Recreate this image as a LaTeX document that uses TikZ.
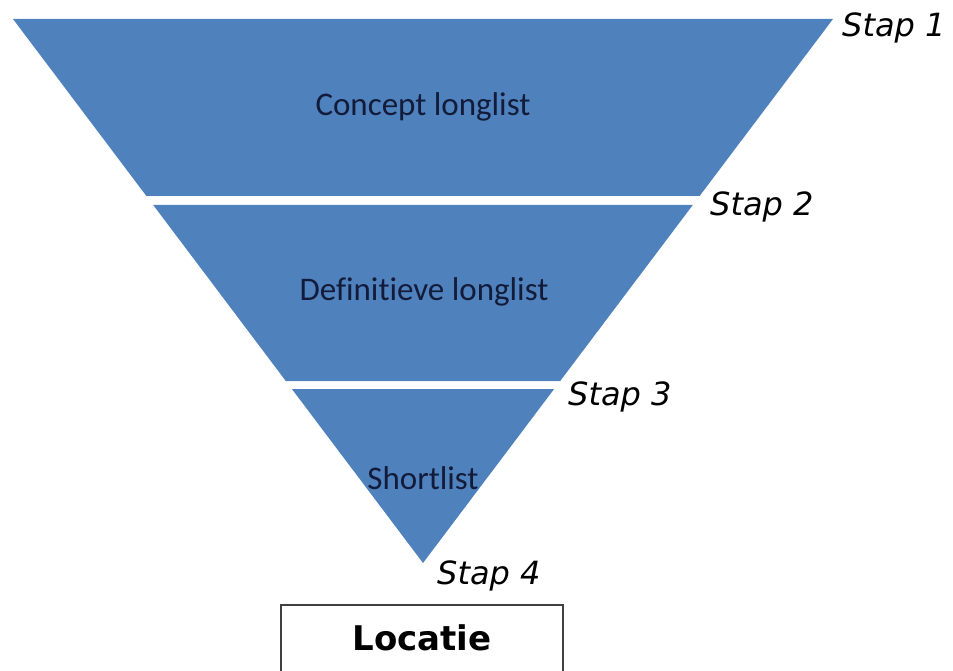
\documentclass[tikz,border=0pt]{standalone}
\usepackage{fontspec}
\setmainfont[Ligatures={NoCommon,NoDiscretionary,NoContextual}]{Carlito}
\newfontfamily\verdanalike{DejaVu Sans}
\usetikzlibrary{positioning}
\definecolor{funnelblue}{HTML}{4F81BD}
\definecolor{bandtext}{RGB}{18,28,58}
\definecolor{boxline}{RGB}{64,64,64}
\tikzset{
  band/.style={fill=funnelblue, draw=none},
  bandlabel/.style={text=bandtext, font=\fontsize{33}{36}\selectfont, inner sep=0pt},
  staplabel/.style={font=\verdanalike\itshape\fontsize{32}{36}\selectfont, anchor=base west, inner sep=0pt},
  resultbox/.style={draw=boxline, line width=2pt, fill=white}
}
\begin{document}
\begin{tikzpicture}[x=1pt,y=-1pt]
\useasboundingbox (0,0) rectangle (953,671);
\clip (0,0) rectangle (953,671);
% bands
\fill[band] (13,19) -- (833,19) -- (699.6,196) -- (146.4,196) -- cycle;
\fill[band] (153.2,205) -- (692.8,205) -- (560.2,381) -- (285.8,381) -- cycle;
\fill[band] (291.9,389) -- (554.1,389) -- (423,563) -- cycle;
% band labels
\node[bandlabel] (concept) at (423,107) {Concept longlist};
\node[bandlabel] (definitief) at (424,292) {Defin\kern0pt itieve longlist};
\node[bandlabel] (short) at (423,478) {Shortlist};
% stap labels
\node[staplabel] (stap1) at (842,37) {Stap 1};
\node[staplabel] (stap2) at (710,215) {Stap 2};
\node[staplabel] (stap3) at (568,405) {Stap 3};
\node[staplabel] (stap4) at (437,584) {Stap 4};
% result box
\draw[resultbox] (281,605) rectangle (563,690);
\node[font=\verdanalike\bfseries\fontsize{34}{38}\selectfont, anchor=base, inner sep=0pt] (locatie) at (422,650) {Locatie};
\end{tikzpicture}
\end{document}
